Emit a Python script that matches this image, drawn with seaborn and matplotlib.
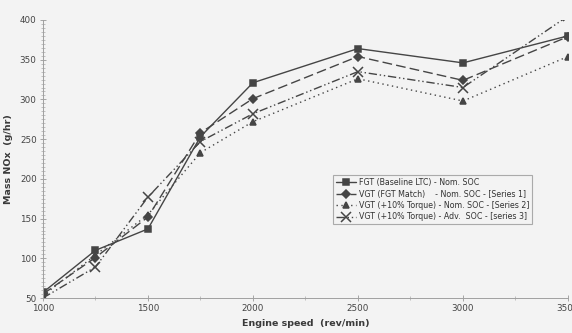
import numpy as np
import pandas as pd
import matplotlib
matplotlib.use('Agg')
import matplotlib.pyplot as plt
import seaborn as sns
from matplotlib.ticker import MultipleLocator

# du lieu doc tu hinh
speed = [1000, 1250, 1500, 1750, 2000, 2500, 3000, 3500]
fgt_base = [57, 110, 137, 253, 321, 364, 346, 380]
vgt_match = [55, 101, 152, 258, 301, 354, 324, 379]
vgt_torque = [53, 104, 155, 233, 272, 326, 298, 354]
vgt_adv = [50, 89, 177, 247, 282, 335, 315, 405]

labels = [
    'FGT (Baseline LTC) - Nom. SOC',
    'VGT (FGT Match)    - Nom. SOC - [Series 1]',
    'VGT (+10% Torque) - Nom. SOC - [Series 2]',
    'VGT (+10% Torque) - Adv.  SOC - [series 3]',
]
series = [fgt_base, vgt_match, vgt_torque, vgt_adv]

df = pd.DataFrame({
    'speed': speed * 4,
    'nox': fgt_base + vgt_match + vgt_torque + vgt_adv,
    'series': sum([[lab] * len(speed) for lab in labels], []),
})

sns.set_theme(style='ticks')
plt.rcParams['font.family'] = ['DejaVu Sans']

fig = plt.figure(figsize=(5.72, 3.33), dpi=100, facecolor='#f3f3f3')
ax = fig.add_axes([0.075, 0.105, 0.918, 0.835])
ax.set_facecolor('#f3f3f3')

col = '#454545'
markers = ['s', 'D', '^', 'x']
styles = ['-', (0, (7, 3)), (0, (1, 2.5)), (0, (6, 2, 1, 2, 1, 2))]
msizes = [5, 3.8, 5, 6.5]

for lab, mk, ls, ms in zip(labels, markers, styles, msizes):
    sns.lineplot(data=df[df['series'] == lab], x='speed', y='nox', ax=ax,
                 color=col, marker=mk, markersize=ms, linestyle=ls,
                 linewidth=1.0, markeredgecolor=col, markeredgewidth=1.1,
                 label=lab, legend=False)

ax.set_xlim(1000, 3500)
ax.set_ylim(50, 400)
ax.xaxis.set_major_locator(MultipleLocator(500))
ax.xaxis.set_minor_locator(MultipleLocator(250))
ax.yaxis.set_major_locator(MultipleLocator(50))
ax.yaxis.set_minor_locator(MultipleLocator(5))
ax.tick_params(axis='both', which='major', direction='inout', length=5,
               width=0.6, color='#999999', labelsize=6.3, labelcolor='#444444', pad=2)
ax.tick_params(axis='both', which='minor', direction='inout', length=3,
               width=0.5, color='#aaaaaa')

sns.despine(ax=ax)
for sp in ['left', 'bottom']:
    ax.spines[sp].set_color('#a0a0a0')
    ax.spines[sp].set_linewidth(0.7)

ax.set_xlabel('Engine speed  (rev/min)', fontsize=6.8, fontweight='bold',
              color='#3a3a3a', labelpad=4)
ax.set_ylabel('Mass NOx  (g/hr)', fontsize=6.8, fontweight='bold',
              color='#3a3a3a', labelpad=5)

leg = ax.legend(loc='upper left', bbox_to_anchor=(0.545, 0.455), fontsize=5.7,
                frameon=True, fancybox=False, edgecolor='#aaaaaa',
                facecolor='#f3f3f3', handlelength=2.6, handletextpad=0.3,
                borderpad=0.35, labelspacing=0.3, framealpha=1)
leg.get_frame().set_linewidth(0.8)
for t in leg.get_texts():
    t.set_color('#333333')

fig.savefig('out.png', dpi=100, facecolor=fig.get_facecolor())
